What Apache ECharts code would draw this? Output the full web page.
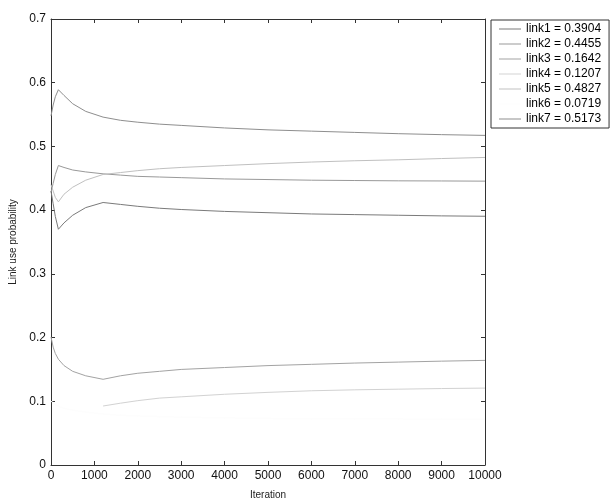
<!DOCTYPE html>
<html>
<head>
<meta charset="utf-8">
<script src="https://cdn.jsdelivr.net/npm/echarts@6/dist/echarts.min.js"></script>
<style>html,body{margin:0;padding:0;background:#fff}#c{width:615px;height:499px}</style>
</head>
<body>
<div id="c"></div>
<script>
var iterations = [0, 50, 100, 170, 300, 500, 800, 1200, 1600, 2000, 2500, 3000, 4000, 5000, 6000, 7000, 8000, 9000, 10000];
var link1 = [0.430, 0.410, 0.390, 0.370, 0.380, 0.392, 0.404, 0.412, 0.409, 0.406, 0.403, 0.401, 0.398, 0.396, 0.394, 0.393, 0.392, 0.391, 0.3904];
var link2 = [0.428, 0.442, 0.456, 0.470, 0.467, 0.463, 0.460, 0.457, 0.455, 0.453, 0.452, 0.451, 0.449, 0.448, 0.447, 0.4465, 0.446, 0.4458, 0.4455];
var link3 = [0.201, 0.185, 0.175, 0.166, 0.156, 0.147, 0.140, 0.1345, 0.140, 0.144, 0.147, 0.150, 0.153, 0.156, 0.158, 0.160, 0.1615, 0.163, 0.1642];
var link4 = [null, null, null, null, null, null, null, 0.0926, 0.097, 0.101, 0.105, 0.107, 0.111, 0.114, 0.1165, 0.118, 0.119, 0.120, 0.1207];
var link5 = [0.440, 0.430, 0.420, 0.413, 0.425, 0.436, 0.447, 0.456, 0.459, 0.462, 0.465, 0.467, 0.470, 0.473, 0.4755, 0.4775, 0.479, 0.481, 0.4827];
var link6 = [0.100, 0.098, 0.095, 0.092, 0.089, 0.086, 0.083, 0.080, 0.078, 0.077, 0.076, 0.075, 0.074, 0.073, 0.0727, 0.0724, 0.0722, 0.072, 0.0719];
var link7 = [0.548, 0.565, 0.578, 0.589, 0.580, 0.567, 0.555, 0.546, 0.541, 0.538, 0.535, 0.533, 0.529, 0.526, 0.524, 0.522, 0.520, 0.5185, 0.5173];
var names = ['link1 = 0.3904', 'link2 = 0.4455', 'link3 = 0.1642', 'link4 = 0.1207', 'link5 = 0.4827', 'link6 = 0.0719', 'link7 = 0.5173'];
var values = [link1, link2, link3, link4, link5, link6, link7];
var colors = ['#7a7a7a', '#999999', '#a3a3a3', '#d2d2d2', '#c0c0c0', '#fdfdfd', '#8e8e8e'];

var font = '"Liberation Sans", Arial, sans-serif';
var series = values.map(function (v, i) {
  return {
    name: names[i],
    type: 'line',
    symbol: 'none',
    smooth: false,
    connectNulls: false,
    lineStyle: { color: colors[i], width: 1 },
    itemStyle: { color: colors[i] },
    data: iterations.map(function (x, j) { return [x, v[j]]; }),
    z: 3
  };
});

var chart = echarts.init(document.getElementById('c'), null, { renderer: 'canvas' });
var axisLine = { show: true, onZero: false, lineStyle: { color: '#333', width: 1 } };
var tickIn = { show: true, inside: true, length: 4, lineStyle: { color: '#333' } };
chart.setOption({
  animation: false,
  backgroundColor: '#fff',
  grid: { left: 51, right: 130, top: 19, bottom: 34, containLabel: false, outerBoundsMode: 'none' },
  legend: {
    orient: 'vertical',
    left: 491,
    top: 20,
    padding: [3, 8, 3, 8],
    borderColor: '#333',
    borderWidth: 1,
    itemWidth: 22,
    itemHeight: 12,
    itemGap: 3,
    icon: 'path://M0,6 L22,6 L22,7 L0,7 Z',
    textStyle: { fontFamily: font, fontSize: 12, color: '#000' },
    data: names
  },
  xAxis: [{
    type: 'value', min: 0, max: 10000, interval: 1000, position: 'bottom',
    name: 'Iteration', nameLocation: 'middle', nameGap: 25,
    nameTextStyle: { fontFamily: font, fontSize: 10, color: '#222' },
    axisLine: axisLine, axisTick: tickIn, splitLine: { show: false },
    axisLabel: { fontFamily: font, fontSize: 12, color: '#111', margin: 5,
      formatter: function (v) { return String(v); } }
  }, {
    type: 'value', min: 0, max: 10000, interval: 1000, position: 'top',
    axisLine: axisLine, axisTick: tickIn, splitLine: { show: false },
    axisLabel: { show: false }
  }],
  yAxis: [{
    type: 'value', min: 0, max: 0.7, interval: 0.1, position: 'left',
    name: 'Link use probability', nameLocation: 'middle', nameGap: 32, nameRotate: 90,
    nameTextStyle: { fontFamily: font, fontSize: 10, color: '#222' },
    axisLine: axisLine, axisTick: tickIn, splitLine: { show: false },
    axisLabel: { fontFamily: font, fontSize: 12, color: '#111', margin: 5,
      formatter: function (v) { return v === 0 ? '0' : (Math.round(v * 10) / 10).toString(); } }
  }, {
    type: 'value', min: 0, max: 0.7, interval: 0.1, position: 'right',
    axisLine: axisLine, axisTick: tickIn, splitLine: { show: false },
    axisLabel: { show: false }
  }],
  series: series
});
</script>
</body>
</html>
